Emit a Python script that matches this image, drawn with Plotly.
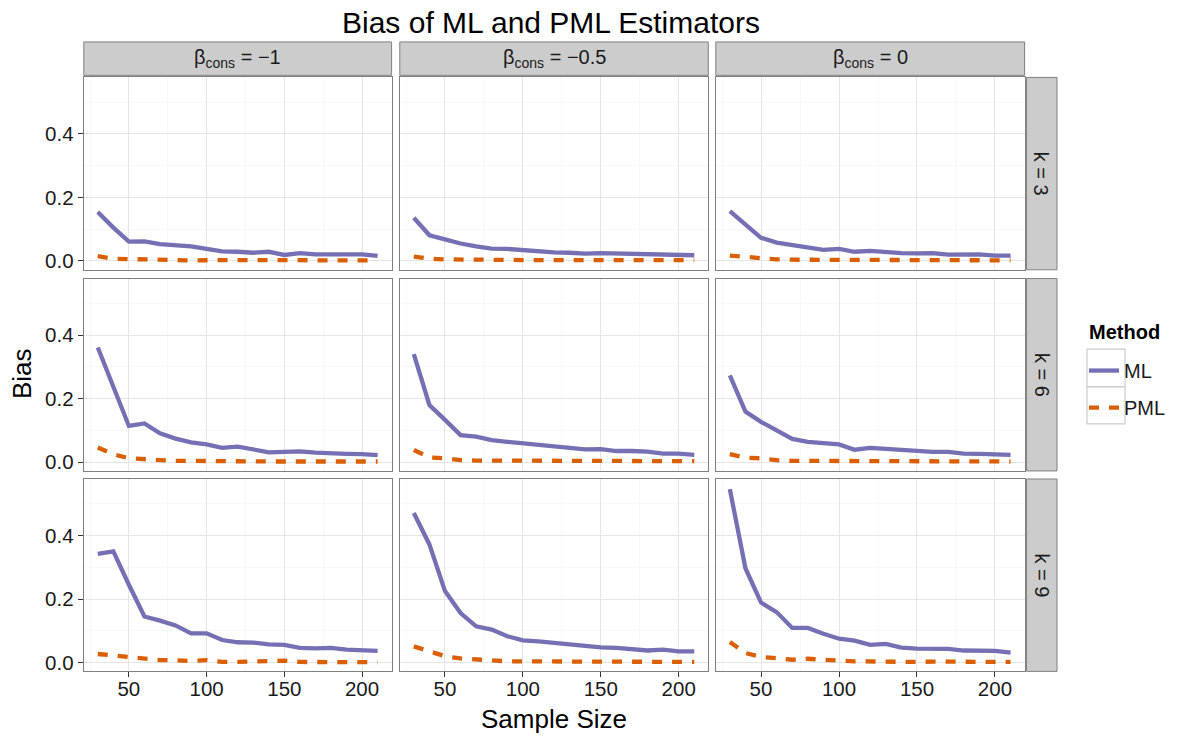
import plotly.graph_objects as go

# ---------------- data ----------------
sample_size = [30, 40, 50, 60, 70, 80, 90, 100, 110, 120, 130, 140, 150, 160, 170, 180, 190, 200, 210]
beta_labels = ["β<sub>cons</sub> = −1", "β<sub>cons</sub> = −0.5", "β<sub>cons</sub> = 0"]
k_labels = ["k = 3", "k = 6", "k = 9"]
methods = ["ML", "PML"]
y_ticks = [0.0, 0.2, 0.4]
x_ticks = [50, 100, 150, 200]

ml_k3_bm1 = [0.154, 0.105, 0.061, 0.062, 0.053, 0.050, 0.046, 0.038, 0.030, 0.029, 0.026, 0.029, 0.019, 0.025, 0.021, 0.021, 0.021, 0.021, 0.016]
pml_k3_bm1 = [0.015, 0.007, 0.006, 0.004, 0.003, 0.003, 0.002, 0.003, 0.002, 0.003, 0.003, 0.003, 0.002, 0.003, 0.002, 0.002, 0.002, 0.002, 0.002]
ml_k3_bm05 = [0.136, 0.081, 0.068, 0.055, 0.046, 0.039, 0.038, 0.034, 0.028, 0.027, 0.026, 0.023, 0.025, 0.024, 0.021, 0.023, 0.020, 0.021, 0.018]
pml_k3_bm05 = [0.014, 0.007, 0.005, 0.004, 0.004, 0.004, 0.003, 0.003, 0.003, 0.003, 0.003, 0.003, 0.003, 0.003, 0.003, 0.003, 0.003, 0.003, 0.003]
ml_k3_b0 = [0.157, 0.116, 0.073, 0.058, 0.051, 0.045, 0.035, 0.038, 0.029, 0.032, 0.027, 0.025, 0.024, 0.025, 0.020, 0.020, 0.021, 0.017, 0.017]
pml_k3_b0 = [0.017, 0.013, 0.007, 0.005, 0.004, 0.004, 0.004, 0.003, 0.003, 0.004, 0.003, 0.003, 0.003, 0.004, 0.003, 0.003, 0.003, 0.002, 0.002]

ml_k6_bm1 = [0.361, 0.238, 0.114, 0.122, 0.091, 0.074, 0.062, 0.056, 0.045, 0.049, 0.040, 0.031, 0.032, 0.034, 0.030, 0.027, 0.026, 0.025, 0.022]
pml_k6_bm1 = [0.046, 0.025, 0.012, 0.009, 0.005, 0.004, 0.004, 0.003, 0.003, 0.003, 0.002, 0.002, 0.002, 0.002, 0.002, 0.002, 0.002, 0.002, 0.002]
ml_k6_bm05 = [0.340, 0.180, 0.133, 0.085, 0.080, 0.069, 0.064, 0.059, 0.054, 0.047, 0.043, 0.040, 0.041, 0.035, 0.035, 0.033, 0.027, 0.027, 0.023]
pml_k6_bm05 = [0.038, 0.015, 0.012, 0.006, 0.005, 0.005, 0.004, 0.003, 0.003, 0.003, 0.003, 0.003, 0.003, 0.003, 0.003, 0.003, 0.003, 0.003, 0.003]
ml_k6_b0 = [0.273, 0.159, 0.127, 0.099, 0.073, 0.064, 0.059, 0.056, 0.039, 0.045, 0.042, 0.038, 0.035, 0.032, 0.032, 0.027, 0.026, 0.026, 0.023]
pml_k6_b0 = [0.025, 0.014, 0.012, 0.006, 0.004, 0.004, 0.005, 0.004, 0.002, 0.002, 0.002, 0.002, 0.002, 0.002, 0.002, 0.002, 0.002, 0.002, 0.002]

ml_k9_bm1 = [0.342, 0.350, 0.245, 0.145, 0.132, 0.117, 0.092, 0.092, 0.071, 0.064, 0.063, 0.057, 0.056, 0.046, 0.045, 0.046, 0.041, 0.038, 0.037]
pml_k9_bm1 = [0.027, 0.022, 0.018, 0.013, 0.008, 0.007, 0.005, 0.008, 0.002, 0.002, 0.003, 0.004, 0.006, 0.002, 0.002, 0.002, 0.001, 0.001, 0.001]
ml_k9_bm05 = [0.471, 0.372, 0.225, 0.156, 0.114, 0.104, 0.083, 0.070, 0.067, 0.062, 0.058, 0.050, 0.048, 0.046, 0.043, 0.038, 0.041, 0.035, 0.035]
pml_k9_bm05 = [0.051, 0.035, 0.020, 0.013, 0.009, 0.006, 0.004, 0.004, 0.003, 0.004, 0.003, 0.003, 0.003, 0.003, 0.003, 0.002, 0.002, 0.002, 0.002]
ml_k9_b0 = [0.546, 0.297, 0.189, 0.159, 0.109, 0.109, 0.091, 0.075, 0.069, 0.056, 0.059, 0.047, 0.044, 0.045, 0.043, 0.038, 0.037, 0.037, 0.031]
pml_k9_b0 = [0.065, 0.030, 0.018, 0.012, 0.009, 0.012, 0.008, 0.006, 0.004, 0.003, 0.004, 0.003, 0.002, 0.003, 0.003, 0.002, 0.002, 0.002, 0.002]

panels = [
    [(ml_k3_bm1, pml_k3_bm1), (ml_k3_bm05, pml_k3_bm05), (ml_k3_b0, pml_k3_b0)],
    [(ml_k6_bm1, pml_k6_bm1), (ml_k6_bm05, pml_k6_bm05), (ml_k6_b0, pml_k6_b0)],
    [(ml_k9_bm1, pml_k9_bm1), (ml_k9_bm05, pml_k9_bm05), (ml_k9_b0, pml_k9_b0)],
]

# ---------------- styling ----------------
OFF = 8  # page body margin
W, H = 1180 - OFF, 738 - OFF
FONT = "Liberation Sans, Arial, Helvetica, sans-serif"
ML_COLOR = "#7570B3"
PML_COLOR = "#D95F02"
BORDER = "#7F7F7F"
GRID = "#E5E5E5"
MINOR = "#F7F7F7"
STRIP = "#CCCCCC"
TXT = "#1A1A1A"
TICK_SIZE = 20.5

cols_px = [(83.8, 391.6), (399.8, 708.3), (715.8, 1024.6)]
rows_px = [(77.6, 270.5), (279.3, 472.2), (480.3, 673.2)]
strip_top = (42.0, 75.5)
strip_right = (1026.6, 1057.0)


def px_x(v):
    return (v - OFF) / W


def px_y(v):
    return 1 - (v - OFF) / H


fig = go.Figure()
layout = {}
shapes = []
annotations = []

for r in range(3):
    for c in range(3):
        idx = r * 3 + c + 1
        suffix = "" if idx == 1 else str(idx)
        xa, ya = "x" + suffix, "y" + suffix
        ml, pml = panels[r][c]
        first = (idx == 1)
        fig.add_trace(go.Scatter(
            x=sample_size, y=ml, mode="lines", name=methods[0],
            line=dict(color=ML_COLOR, width=4.3),
            xaxis=xa, yaxis=ya, showlegend=first, legendgroup="ML",
            hoverinfo="x+y+name"))
        fig.add_trace(go.Scatter(
            x=sample_size, y=pml, mode="lines", name=methods[1],
            line=dict(color=PML_COLOR, width=4.3, dash="10px,10px"),
            xaxis=xa, yaxis=ya, showlegend=first, legendgroup="PML",
            hoverinfo="x+y+name"))

        bottom = (r == 2)
        left = (c == 0)
        layout["xaxis" + suffix] = dict(
            domain=[px_x(cols_px[c][0]), px_x(cols_px[c][1])],
            anchor=ya, range=[21, 219],
            tickmode="array", tickvals=x_ticks,
            showticklabels=bottom, ticks="outside" if bottom else "",
            ticklen=5, tickwidth=1.2, tickcolor="#333333",
            ticklabelstandoff=-6,
            tickfont=dict(family=FONT, size=TICK_SIZE, color=TXT),
            showgrid=True, gridcolor=GRID, gridwidth=1,
            minor=dict(tickmode="array", tickvals=[25, 75, 125, 175],
                       showgrid=True, gridcolor=MINOR, gridwidth=1, ticks=""),
            showline=True, mirror=True, linecolor=BORDER, linewidth=1.2,
            zeroline=False,
        )
        layout["yaxis" + suffix] = dict(
            domain=[px_y(rows_px[r][1]), px_y(rows_px[r][0])],
            anchor=xa, range=[-0.0277, 0.578],
            tickmode="array", tickvals=y_ticks,
            ticktext=[f"{v:.1f}" for v in y_ticks],
            showticklabels=left, ticks="outside" if left else "",
            ticklen=5, tickwidth=1.2, tickcolor="#333333",
            tickfont=dict(family=FONT, size=TICK_SIZE, color=TXT),
            showgrid=True, gridcolor=GRID, gridwidth=1,
            minor=dict(tickmode="array", tickvals=[0.1, 0.3, 0.5],
                       showgrid=True, gridcolor=MINOR, gridwidth=1, ticks=""),
            showline=True, mirror=True, linecolor=BORDER, linewidth=1.2,
            zeroline=False,
        )

# top strips
for c in range(3):
    x0, x1 = cols_px[c]
    shapes.append(dict(type="rect", xref="paper", yref="paper",
                       x0=px_x(x0), x1=px_x(x1), y0=px_y(strip_top[1]), y1=px_y(strip_top[0]),
                       fillcolor=STRIP, line=dict(color=BORDER, width=1), layer="below"))
    annotations.append(dict(xref="paper", yref="paper", x=px_x((x0 + x1) / 2),
                            y=px_y((strip_top[0] + strip_top[1]) / 2),
                            text=beta_labels[c], showarrow=False,
                            font=dict(family=FONT, size=20, color=TXT),
                            xanchor="center", yanchor="middle"))
# right strips
for r in range(3):
    y0, y1 = rows_px[r]
    shapes.append(dict(type="rect", xref="paper", yref="paper",
                       x0=px_x(strip_right[0]), x1=px_x(strip_right[1]), y0=px_y(y1), y1=px_y(y0),
                       fillcolor=STRIP, line=dict(color=BORDER, width=1), layer="below"))
    annotations.append(dict(xref="paper", yref="paper",
                            x=px_x((strip_right[0] + strip_right[1]) / 2),
                            y=px_y((y0 + y1) / 2), text=k_labels[r], showarrow=False,
                            textangle=90, font=dict(family=FONT, size=20, color=TXT),
                            xanchor="center", yanchor="middle"))

# titles
annotations.append(dict(xref="paper", yref="paper", x=px_x(551), y=px_y(23),
                        text="Bias of ML and PML Estimators", showarrow=False,
                        font=dict(family=FONT, size=30, color="#000000"),
                        xanchor="center", yanchor="middle"))
annotations.append(dict(xref="paper", yref="paper", x=px_x(554), y=px_y(721),
                        text="Sample Size", showarrow=False,
                        font=dict(family=FONT, size=26, color="#000000"),
                        xanchor="center", yanchor="middle"))
annotations.append(dict(xref="paper", yref="paper", x=px_x(22), y=px_y(375),
                        text="Bias", showarrow=False, textangle=-90,
                        font=dict(family=FONT, size=26, color="#000000"),
                        xanchor="center", yanchor="middle"))
# legend title
annotations.append(dict(xref="paper", yref="paper", x=px_x(1087), y=px_y(333),
                        text="<b>Method</b>", showarrow=False,
                        font=dict(family=FONT, size=20, color="#000000"),
                        xanchor="left", yanchor="middle"))

# legend key boxes
for (y0, y1) in [(350, 388), (388, 425)]:
    shapes.append(dict(type="rect", xref="paper", yref="paper",
                       x0=px_x(1087), x1=px_x(1125), y0=px_y(y1), y1=px_y(y0),
                       fillcolor="white", line=dict(color="#CCCCCC", width=1.2), layer="below"))

fig.update_layout(
    width=W, height=H,
    margin=dict(l=0, r=0, t=0, b=0),
    paper_bgcolor="white", plot_bgcolor="white",
    font=dict(family=FONT, color=TXT),
    showlegend=True,
    legend=dict(x=px_x(1084), y=px_y(352), xanchor="left", yanchor="top",
                bgcolor="rgba(0,0,0,0)", borderwidth=0,
                font=dict(family=FONT, size=20, color=TXT),
                tracegroupgap=8, itemwidth=30),
    shapes=shapes, annotations=annotations,
    **layout,
)

fig.write_html("out.html")
